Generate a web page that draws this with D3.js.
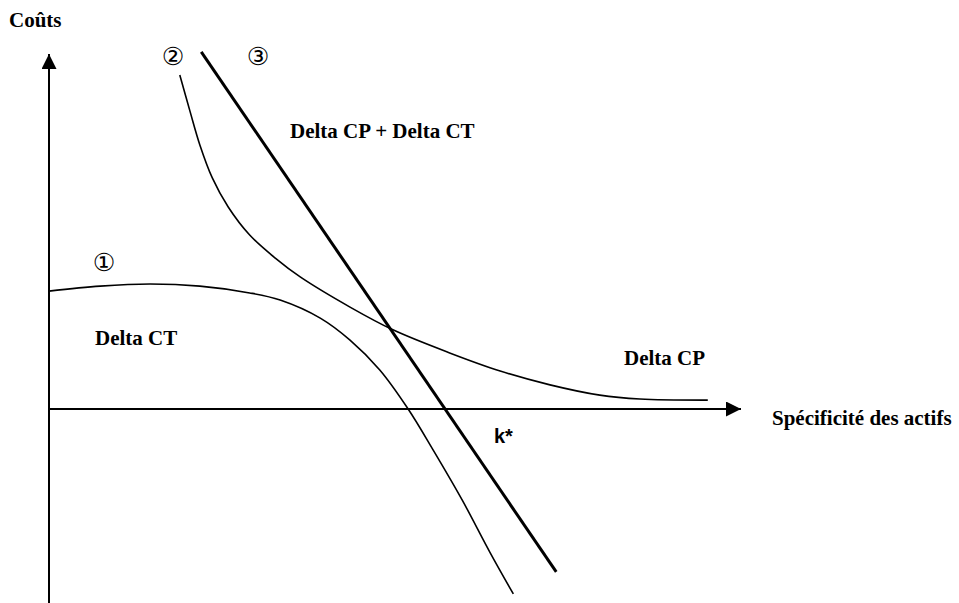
<!DOCTYPE html>
<html>
<head>
<meta charset="utf-8">
<script src="https://cdn.jsdelivr.net/npm/d3@7"></script>
<style>
  body { margin: 0; background: #fff; }
  svg { display: block; }
  .lbl { font-family: "Liberation Serif", "Times New Roman", serif; font-weight: bold; font-size: 21px; fill: #000; }
  .num { font-family: "DejaVu Sans", sans-serif; font-size: 25px; fill: #000; }
</style>
</head>
<body>
<figure id="chart" style="margin:0"></figure>
<script>
// curve 1 : Delta CT (x = spécificité, y = coût)
const deltaCT = [
  [0, 33.2], [7.4, 34.6], [14.6, 35.2], [21.8, 34.6], [29.0, 32.7], [33.4, 30.7],
  [39.2, 25.6], [43.5, 19.4], [47.8, 11.0], [51.9, 0], [55.5, -11.5],
  [59.7, -25.6], [63.7, -40.3], [67.1, -52.1]
];
// curve 2 : Delta CP
const deltaCP = [
  [18.9, 94.1], [20.4, 83.7], [21.8, 74.4], [23.6, 65.1], [25.9, 56.9],
  [29.0, 49.0], [32.7, 42.5], [36.3, 37.2], [43.5, 28.7], [49.7, 22.3],
  [57.9, 15.8], [65.2, 10.7], [72.4, 6.8], [79.6, 3.9], [85.4, 2.8], [95.2, 2.5]
];
// curve 3 : Delta CP + Delta CT
const deltaSum = [[22.0, 100.6], [73.3, -45.9]];

const xDomain = [0, 100];
const yDomain = [0, 100];
const yMin = -55;

const width = 959, height = 603;

const svg = d3.select("figure#chart").append("svg")
  .attr("width", width)
  .attr("height", height)
  .attr("viewBox", `0 0 ${width} ${height}`);

const x = d3.scaleLinear().domain(xDomain).range([49, 741]);
const y = d3.scaleLinear().domain(yDomain).range([409, 54]);

const defs = svg.append("defs");
defs.append("marker")
  .attr("id", "arrow")
  .attr("viewBox", "0 0 10 10")
  .attr("refX", 10).attr("refY", 5)
  .attr("markerWidth", 15).attr("markerHeight", 15)
  .attr("markerUnits", "userSpaceOnUse")
  .attr("orient", "auto")
  .append("path")
  .attr("d", "M0,0 L10,5 L0,10 Z")
  .attr("fill", "#000");

// axes
svg.append("line")
  .attr("x1", x(0)).attr("y1", y(yMin))
  .attr("x2", x(0)).attr("y2", y(yDomain[1]))
  .attr("stroke", "#000").attr("stroke-width", 2)
  .attr("marker-end", "url(#arrow)");

svg.append("line")
  .attr("x1", x(0)).attr("y1", y(0))
  .attr("x2", x(xDomain[1])).attr("y2", y(0))
  .attr("stroke", "#000").attr("stroke-width", 2)
  .attr("marker-end", "url(#arrow)");

const line = d3.line()
  .x((d) => x(d[0]))
  .y((d) => y(d[1]))
  .curve(d3.curveCatmullRom.alpha(0.5));

svg.append("path").datum(deltaCT)
  .attr("d", line).attr("fill", "none")
  .attr("stroke", "#000").attr("stroke-width", 1.6);

svg.append("path").datum(deltaCP)
  .attr("d", line).attr("fill", "none")
  .attr("stroke", "#000").attr("stroke-width", 1.6);

svg.append("path").datum(deltaSum)
  .attr("d", d3.line().x((d) => x(d[0])).y((d) => y(d[1])))
  .attr("fill", "none")
  .attr("stroke", "#000").attr("stroke-width", 3);

// labels
svg.append("text").attr("class", "lbl").attr("x", 9).attr("y", 27).text("Coûts");
svg.append("text").attr("class", "lbl").attr("x", 772).attr("y", 425).text("Spécificité des actifs");
svg.append("text").attr("class", "lbl").attr("x", 290).attr("y", 138).text("Delta CP + Delta CT");
svg.append("text").attr("class", "lbl").attr("x", 95).attr("y", 345).text("Delta CT");
svg.append("text").attr("class", "lbl").attr("x", 624).attr("y", 365).text("Delta CP");
svg.append("text")
  .attr("x", 494).attr("y", 443)
  .attr("font-family", "Liberation Sans, Arial, sans-serif")
  .attr("font-weight", "bold").attr("font-size", 20)
  .text("k*");

const nums = [["①", 104, 262], ["②", 173, 56], ["③", 258, 56]];
svg.selectAll(".num").data(nums).enter().append("text")
  .attr("class", "num")
  .attr("x", (d) => d[1]).attr("y", (d) => d[2])
  .attr("text-anchor", "middle")
  .attr("dominant-baseline", "central")
  .text((d) => d[0]);
</script>
</body>
</html>
